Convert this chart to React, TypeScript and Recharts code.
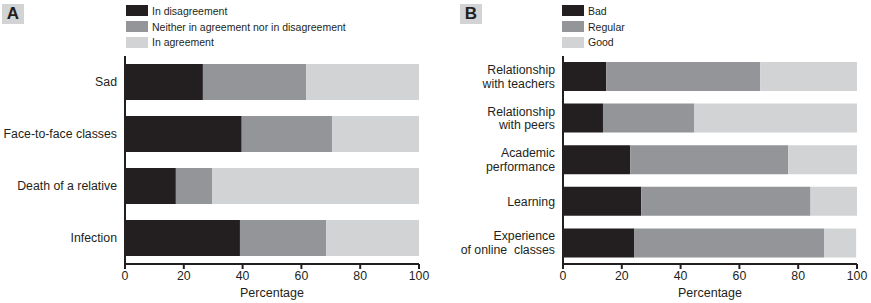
import React from 'react'
import { BarChart, Bar, XAxis, YAxis } from 'recharts'

const INK = '#231f20'
const MID = '#939598'
const LIGHT = '#d1d3d4'
const FONT = '"Liberation Sans", Arial, sans-serif'

// Panel A
const topicsA = ['Sad', 'Face-to-face classes', 'Death of a relative', 'Infection']
const disagree = [26.5, 39.7, 17.3, 39.1]
const neither = [35.1, 30.7, 12.3, 29.3]
const agree = [38.4, 29.6, 70.4, 31.6]
const seriesA = ['In disagreement', 'Neither in agreement nor in disagreement', 'In agreement']

// Panel B
const topicsB = [
  'Relationship\nwith teachers',
  'Relationship\nwith peers',
  'Academic\nperformance',
  'Learning',
  'Experience\nof online  classes',
]
const bad = [14.7, 13.6, 22.9, 26.6, 24.3]
const regular = [52.4, 31.1, 53.7, 57.6, 64.6]
const good = [32.9, 55.3, 23.4, 15.8, 10.8]
const seriesB = ['Bad', 'Regular', 'Good']

const percentTicks = [0, 20, 40, 60, 80, 100]
const fills = [INK, MID, LIGHT]

const dataA = topicsA.map((name, i) => ({ name, s0: disagree[i], s1: neither[i], s2: agree[i] }))
const dataB = topicsB.map((name, i) => ({ name, s0: bad[i], s1: regular[i], s2: good[i] }))

const CategoryTick = (props: any) => {
  const { x, y, payload } = props
  const lines = String(payload.value).split('\n')
  const lh = 13.5
  const first = -((lines.length - 1) * lh) / 2 + 4
  return (
    <text x={x} y={y} textAnchor="end" fill={INK} fontSize={12.3} fontFamily={FONT} style={{ whiteSpace: 'pre' }}>
      {lines.map((l, i) => (
        <tspan key={i} x={x} dy={i === 0 ? first : lh}>
          {l}
        </tspan>
      ))}
    </text>
  )
}

const PanelTag = ({ letter, left }: { letter: string; left: number }) => (
  <div
    style={{
      position: 'absolute',
      left,
      top: 4,
      width: 22,
      height: 20,
      background: LIGHT,
      fontWeight: 'bold',
      fontSize: 17,
      lineHeight: '20px',
      textAlign: 'center',
      color: INK,
    }}
  >
    {letter}
  </div>
)

const Key = ({ names, left }: { names: string[]; left: number }) => (
  <div style={{ position: 'absolute', left, top: 3 }}>
    {names.map((n, i) => (
      <div key={n} style={{ display: 'flex', alignItems: 'center', height: 15.7 }}>
        <div style={{ width: 22, height: 11, background: fills[i], marginRight: 4 }} />
        <span style={{ fontSize: 10.5, color: INK }}>{n}</span>
      </div>
    ))}
  </div>
)

function Panel({ data, yWidth, width, right, barSize }: any) {
  return (
    <BarChart
      width={width}
      height={303}
      data={data}
      layout="vertical"
      margin={{ top: 56, right, bottom: 0, left: 0 }}
    >
      <XAxis
        type="number"
        domain={[0, 100]}
        ticks={percentTicks}
        height={39}
        axisLine={{ stroke: INK, strokeWidth: 2 }}
        tickLine={{ stroke: INK, strokeWidth: 2 }}
        tickSize={5}
        tick={{ fill: INK, fontSize: 12.3, fontFamily: FONT }}
        label={{ value: 'Percentage', position: 'insideBottom', offset: 6, fill: INK, fontSize: 12.5, fontFamily: FONT }}
      />
      <YAxis
        type="category"
        dataKey="name"
        width={yWidth}
        axisLine={{ stroke: INK, strokeWidth: 2 }}
        tickLine={false}
        tick={<CategoryTick />}
        interval={0}
      />
      {['s0', 's1', 's2'].map((k, i) => (
        <Bar key={k} dataKey={k} stackId="a" fill={fills[i]} barSize={barSize} isAnimationActive={false} />
      ))}
    </BarChart>
  )
}

export default function App() {
  return (
    <div
      style={{
        position: 'fixed',
        left: 0,
        top: 0,
        width: 871,
        height: 303,
        background: '#fff',
        fontFamily: FONT,
      }}
    >
      <div style={{ position: 'absolute', left: 0, top: 0 }}>
        <Panel data={dataA} yWidth={125} width={435} right={16} barSize={36} />
      </div>
      <div style={{ position: 'absolute', left: 435, top: 0 }}>
        <Panel data={dataB} yWidth={128} width={436} right={14} barSize={29} />
      </div>
      <PanelTag letter="A" left={2} />
      <PanelTag letter="B" left={460} />
      <Key names={seriesA} left={126} />
      <Key names={seriesB} left={562} />
    </div>
  )
}
